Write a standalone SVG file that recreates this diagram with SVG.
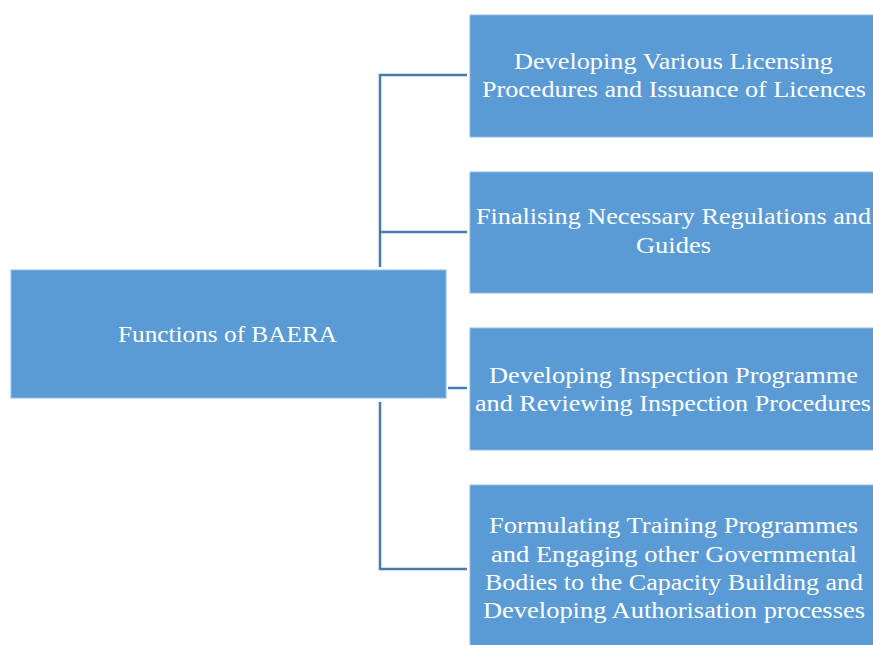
<svg xmlns="http://www.w3.org/2000/svg" width="873" height="645" viewBox="0 0 873 645">
<style>
.box{fill:#5b9bd5;stroke:#8dbbe6;stroke-width:1}
.t{font-family:"Liberation Serif","Times New Roman",serif;font-size:23px;fill:#ffffff}
.c{fill:none;stroke:#4a7bab;stroke-width:2.5}
</style>
<rect width="873" height="645" fill="#ffffff"/>
<g id="connectors">
<polyline class="c" points="467,75 380,75 380,267"/>
<line class="c" x1="380" y1="232" x2="467" y2="232"/>
<line class="c" x1="448" y1="388" x2="467" y2="388"/>
<polyline class="c" points="380,402 380,569 467,569"/>
</g>
<g id="node-main">
<rect class="box" x="11" y="270" width="435" height="128"/>
<text class="t" x="118" y="342" textLength="219" lengthAdjust="spacingAndGlyphs">Functions of BAERA</text>
</g>
<g id="node-1">
<rect class="box" x="470" y="15" width="410" height="122"/>
<text class="t" x="514" y="69" textLength="319" lengthAdjust="spacingAndGlyphs">Developing Various Licensing</text>
<text class="t" x="482" y="97" textLength="384" lengthAdjust="spacingAndGlyphs">Procedures and Issuance of Licences</text>
</g>
<g id="node-2">
<rect class="box" x="470" y="172" width="410" height="121"/>
<text class="t" x="476" y="224" textLength="395" lengthAdjust="spacingAndGlyphs">Finalising Necessary Regulations and</text>
<text class="t" x="636" y="253" textLength="75" lengthAdjust="spacingAndGlyphs">Guides</text>
</g>
<g id="node-3">
<rect class="box" x="470" y="328" width="410" height="122"/>
<text class="t" x="489" y="383" textLength="369" lengthAdjust="spacingAndGlyphs">Developing Inspection Programme</text>
<text class="t" x="475" y="411" textLength="396" lengthAdjust="spacingAndGlyphs">and Reviewing Inspection Procedures</text>
</g>
<g id="node-4">
<rect class="box" x="470" y="485" width="410" height="170"/>
<text class="t" x="489" y="533" textLength="369" lengthAdjust="spacingAndGlyphs">Formulating Training Programmes</text>
<text class="t" x="491" y="562" textLength="366" lengthAdjust="spacingAndGlyphs">and Engaging other Governmental</text>
<text class="t" x="485" y="590" textLength="378" lengthAdjust="spacingAndGlyphs">Bodies to the Capacity Building and</text>
<text class="t" x="483" y="618" textLength="382" lengthAdjust="spacingAndGlyphs">Developing Authorisation processes</text>
</g>
</svg>
